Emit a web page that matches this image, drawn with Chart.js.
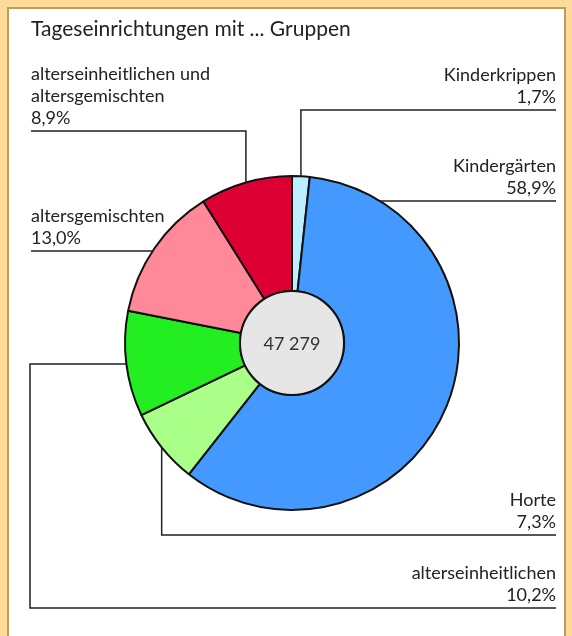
<!DOCTYPE html>
<html>
<head>
<meta charset="utf-8">
<script src="https://cdn.jsdelivr.net/npm/chart.js@4/dist/chart.umd.min.js"></script>
<style>
  body { margin: 0; width: 572px; height: 636px; overflow: hidden; position: relative; background: #FFDB99; }
  #panel { position: absolute; left: 7px; top: 7px; width: 555px; height: 660px; background: #fff; border: 2px solid #BD9B63; }
  #myChart { position: absolute; left: 0; top: 0; }
</style>
</head>
<body>
<div id="panel"></div>
<canvas id="myChart" width="572" height="636"></canvas>
<script>
const titleText = "Tageseinrichtungen mit ... Gruppen";

// slices clockwise from 12 o'clock
const categories = [
  ["Kinderkrippen"],
  ["Kindergärten"],
  ["Horte"],
  ["alterseinheitlichen"],
  ["altersgemischten"],
  ["alterseinheitlichen und", "altersgemischten"]
];
const shares = [1.7, 58.9, 7.3, 10.2, 13.0, 8.9];
const sliceColors = ["#BBEEFF", "#4499FF", "#AAFF88", "#22EE22", "#FF8899", "#DD0033"];
const totalGroups = 47279;

const fontFamily = "Lato, sans-serif";
const inkColor = "#222";

const fmtShare = v => v.toFixed(1).replace(".", ",") + "%";
const fmtTotal = n => String(n).replace(/\B(?=(\d{3})+(?!\d))/g, " ");

const leaderPlugin = {
  id: "leaders",
  afterDraw(chart) {
    const ctx = chart.ctx;
    const meta = chart.getDatasetMeta(0);
    const a0 = meta.data[0];
    const cx = a0.x, cy = a0.y, r = a0.outerRadius, ri = a0.innerRadius;

    // grey hub with total
    ctx.save();
    ctx.beginPath();
    ctx.arc(cx, cy, ri, 0, Math.PI * 2);
    ctx.fillStyle = "#E6E6E6";
    ctx.fill();
    ctx.lineWidth = 2;
    ctx.strokeStyle = "#111";
    ctx.stroke();
    ctx.fillStyle = "#333";
    ctx.font = "18px " + fontFamily;
    ctx.textAlign = "center";
    ctx.textBaseline = "middle";
    ctx.fillText(fmtTotal(totalGroups), cx, cy + 1);

    // title
    ctx.fillStyle = inkColor;
    ctx.textAlign = "left";
    ctx.textBaseline = "alphabetic";
    ctx.font = "21px " + fontFamily;
    ctx.fillText(titleText, 31, 36);

    const rightX = 556, leftX = 31;
    const mid = i => {
      const a = meta.data[i];
      const m = (a.startAngle + a.endAngle) / 2;
      return { x: cx + r * Math.cos(m), y: cy + r * Math.sin(m) };
    };
    const edgeAtY = (y, s) => ({ x: cx + s * Math.sqrt(r * r - (y - cy) * (y - cy)), y: y });

    const layout = [
      { align: "right", rule: 110, path: () => { const p = mid(0); return [p, { x: p.x, y: 110 }, { x: rightX, y: 110 }]; } },
      { align: "right", rule: 201, path: () => [edgeAtY(201, 1), { x: rightX, y: 201 }] },
      { align: "right", rule: 535, path: () => { const p = mid(2); return [p, { x: p.x, y: 535 }, { x: rightX, y: 535 }]; } },
      { align: "right", rule: 608, path: () => { const p = mid(3); return [p, { x: 30, y: p.y }, { x: 30, y: 608 }, { x: rightX, y: 608 }]; } },
      { align: "left", rule: 251, path: () => [edgeAtY(251, -1), { x: leftX, y: 251 }] },
      { align: "left", rule: 131, path: () => { const p = mid(5); return [p, { x: p.x, y: 131 }, { x: leftX, y: 131 }]; } }
    ];

    ctx.font = "18px " + fontFamily;
    ctx.lineWidth = 1.5;
    ctx.strokeStyle = inkColor;
    layout.forEach((l, i) => {
      const pts = l.path();
      ctx.beginPath();
      ctx.moveTo(pts[0].x, pts[0].y);
      pts.slice(1).forEach(p => ctx.lineTo(p.x, p.y));
      ctx.stroke();

      const lines = categories[i].concat([fmtShare(shares[i])]);
      ctx.textAlign = l.align;
      const x = l.align === "right" ? rightX : leftX;
      lines.forEach((t, k) => {
        ctx.fillText(t, x, l.rule - 7 - 22 * (lines.length - 1 - k));
      });
    });
    ctx.restore();
  }
};

const config = {
  type: "doughnut",
  data: {
    labels: categories,
    datasets: [{
      data: shares,
      backgroundColor: sliceColors,
      borderColor: "#111",
      borderWidth: 2
    }]
  },
  options: {
    responsive: false,
    animation: false,
    cutout: 52,
    layout: { padding: { left: 124, right: 112, top: 175, bottom: 125 } },
    plugins: { legend: { display: false }, tooltip: { enabled: false } }
  },
  plugins: [leaderPlugin]
};

new Chart(document.getElementById("myChart"), config);
</script>
</body>
</html>
